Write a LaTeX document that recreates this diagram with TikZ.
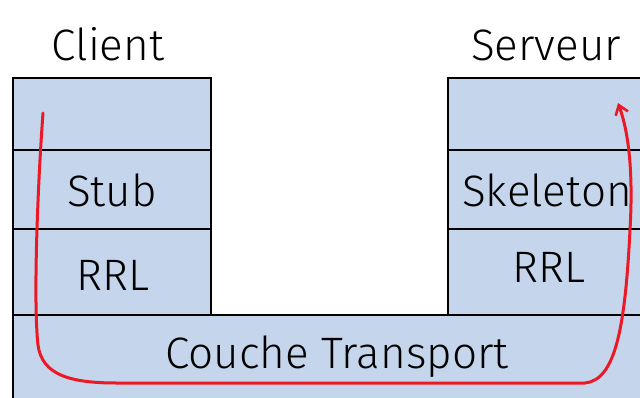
\documentclass[tikz,border=0pt]{standalone}
\usepackage{fontspec}
\setmainfont{Fira Sans Light}
\usetikzlibrary{arrows.meta}
\definecolor{layerblue}{RGB}{197,213,236}
\definecolor{flowred}{RGB}{236,24,36}
\begin{document}
\begin{tikzpicture}[x=1pt,y=-1pt,
  layer/.style={draw=black,line width=2.4pt,fill=layerblue},
  lbl/.style={font=\fontsize{44}{44}\selectfont,anchor=base},
  flow/.style={draw=flowred,line width=3pt,line cap=round,-{Straight Barb[length=9pt,width=13pt,line width=2.6pt]}}]
\useasboundingbox (0,0) rectangle (640,397);
\begin{scope}
\clip (0,0) rectangle (640,397);
% client stack
\draw[layer] (13,78) rectangle (211,150);
\draw[layer] (13,150) rectangle (211,229);
\draw[layer] (13,229) rectangle (211,315);
% server stack
\draw[layer] (448,78) rectangle (650,150);
\draw[layer] (448,150) rectangle (650,229);
\draw[layer] (448,229) rectangle (650,315);
% shared transport layer
\draw[layer] (13,315) rectangle (650,410);
\end{scope}
\node[lbl] (client) at (108,60) {Client};
\node[lbl] (serveur) at (546,60) {Serveur};
\node[lbl] (stub) at (112,206) {Stub};
\node[lbl] (skel) at (547,206) {Skeleton};
\node[lbl] (rrlc) at (113,290) {RRL};
\node[lbl] (rrls) at (549,282) {RRL};
\node[lbl] (transport) at (337,368) {Couche Transport};
% request path through the layers
\coordinate (src) at (43,113);
\coordinate (dst) at (618,103);
\draw[flow] (src) .. controls (38,180) and (33,300) .. (38,345)
  .. controls (42,375) and (70,383) .. (117,383) -- (585,383)
  .. controls (615,380) and (625,330) .. (630,230)
  .. controls (634,160) and (626,125) .. (dst);
\end{tikzpicture}
\end{document}
